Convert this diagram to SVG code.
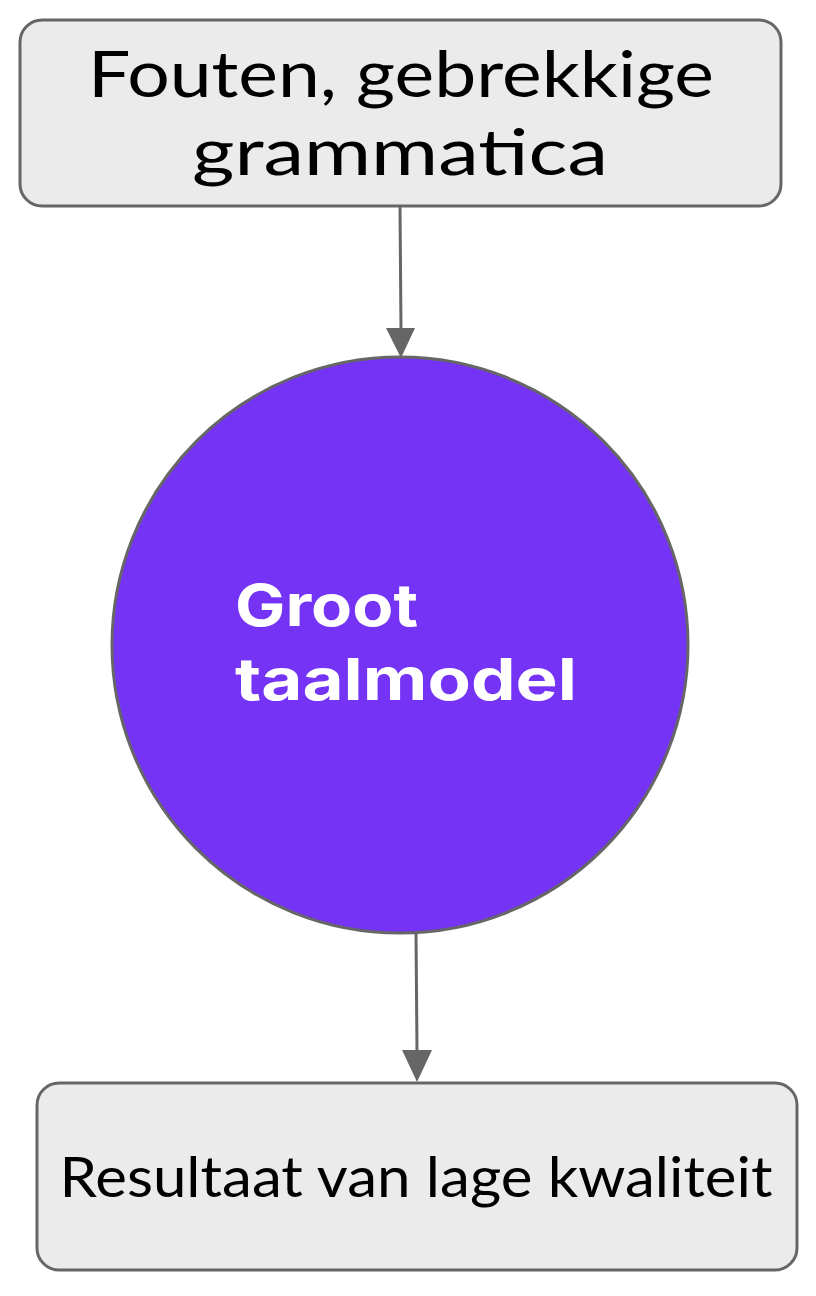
<svg xmlns="http://www.w3.org/2000/svg" width="816" height="1296" viewBox="0 0 816 1296">
  <defs>
    <style>
      .box { fill: #ebebeb; stroke: #666666; stroke-width: 3; }
      .lbl { font-family: "Lato", "Liberation Sans", sans-serif; fill: #000000; text-anchor: middle; }
      .circ { fill: #7433f5; stroke: #666666; stroke-width: 3; }
      .ctext { font-family: "Inter", "Liberation Sans", sans-serif; font-weight: 700; fill: #ffffff; }
      .edge { stroke: #666666; stroke-width: 3; fill: none; }
    </style>
  </defs>
  <rect width="816" height="1296" fill="#ffffff"/>
  <g id="connectors">
    <line class="edge" x1="400" y1="206" x2="401" y2="330"/>
    <polygon points="386,328 415,328 401,358" fill="#666666"/>
    <line class="edge" x1="416" y1="932" x2="417" y2="1052"/>
    <polygon points="402,1050 432,1050 417,1082" fill="#666666"/>
  </g>
  <g id="node-input">
    <rect class="box" x="20" y="20" width="761" height="186" rx="22"/>
    <text class="lbl" x="401" y="97" font-size="64" textLength="626" lengthAdjust="spacingAndGlyphs">Fouten, gebrekkige</text>
    <text class="lbl" x="400" y="175" font-size="64" textLength="416" lengthAdjust="spacingAndGlyphs">grammatica</text>
  </g>
  <g id="node-llm">
    <circle class="circ" cx="400" cy="645" r="288"/>
    <text class="ctext" x="235" y="626" font-size="58" textLength="183" lengthAdjust="spacingAndGlyphs">Groot</text>
    <text class="ctext" x="235" y="700" font-size="58" textLength="342" lengthAdjust="spacingAndGlyphs">taalmodel</text>
  </g>
  <g id="node-output">
    <rect class="box" x="37" y="1083" width="760" height="187" rx="22"/>
    <text class="lbl" x="416" y="1197" font-size="56" textLength="713" lengthAdjust="spacingAndGlyphs">Resultaat van lage kwaliteit</text>
  </g>
</svg>
